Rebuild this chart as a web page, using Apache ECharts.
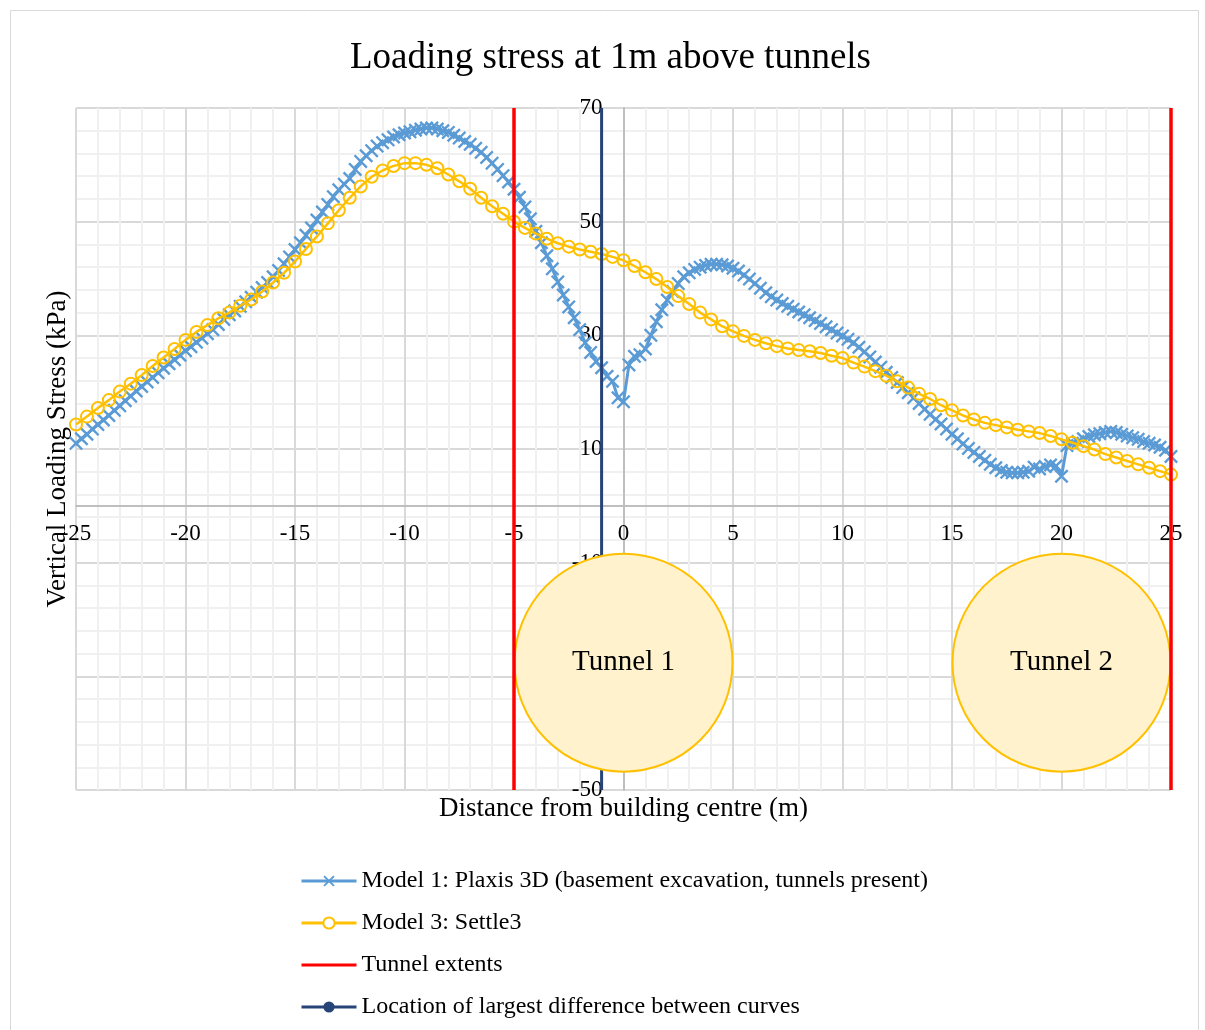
<!DOCTYPE html>
<html>
<head>
<meta charset="utf-8">
<title>Loading stress at 1m above tunnels</title>
<script src="https://cdn.jsdelivr.net/npm/echarts@6/dist/echarts.min.js"></script>
<style>
  html, body { margin: 0; padding: 0; background: #ffffff; }
  #chart { width: 1205px; height: 1030px; }
</style>
</head>
<body>
<div id="chart"></div>
<script>
// Model 1 (Plaxis 3D) sampled every 0.25 m from -25 m to 25 m, kPa
const plaxisStep = 0.25;
const plaxisStress = [
  11.0, 11.8, 12.6, 13.5, 14.3, 15.1, 15.9, 16.8, 17.6, 18.5,
  19.3, 20.2, 21.0, 21.8, 22.6, 23.4, 24.2, 25.0, 25.7, 26.5,
  27.3, 28.0, 28.8, 29.5, 30.3, 31.0, 31.9, 32.8, 33.6, 34.3,
  35.1, 35.9, 36.7, 37.6, 38.4, 39.3, 40.3, 41.4, 42.6, 43.8,
  45.1, 46.3, 47.6, 48.9, 50.3, 51.7, 53.0, 54.4, 55.6, 56.6,
  57.6, 59.2, 60.6, 61.6, 62.5, 63.3, 63.9, 64.4, 64.9, 65.3,
  65.6, 65.8, 66.1, 66.3, 66.5, 66.5, 66.3, 66.0, 65.7, 65.2,
  64.7, 64.1, 63.6, 62.9, 62.2, 61.3, 60.3, 59.2, 58.1, 57.0,
  55.7, 54.3, 52.6, 50.5, 48.3, 46.3, 44.0, 41.7, 39.4, 37.1,
  35.0, 33.1, 31.0, 28.7, 27.0, 25.4, 24.3, 22.8, 21.9, 19.0,
  18.3, 24.8, 26.3, 26.6, 27.6, 30.0, 32.4, 34.5, 36.2, 37.7,
  39.1, 40.3, 41.0, 41.6, 42.0, 42.3, 42.5, 42.5, 42.4, 42.2,
  41.8, 41.3, 40.6, 39.9, 39.1, 38.3, 37.5, 36.8, 36.2, 35.6,
  35.1, 34.6, 34.1, 33.6, 33.1, 32.6, 32.1, 31.5, 31.0, 30.4,
  29.9, 29.3, 28.7, 27.9, 27.1, 26.2, 25.3, 24.4, 23.5, 22.6,
  21.7, 20.8, 19.9, 19.0, 18.0, 17.0, 16.1, 15.2, 14.4, 13.5,
  12.6, 11.8, 10.9, 10.1, 9.4, 8.7, 8.0, 7.3, 6.7, 6.2,
  5.9, 5.8, 5.8, 5.9, 6.1, 6.8, 6.5, 6.9, 7.2, 7.0,
  5.2, 10.6, 11.0, 11.3, 11.8, 12.2, 12.5, 12.7, 12.9, 13.1,
  12.9, 12.6, 12.3, 12.0, 11.7, 11.3, 11.0, 10.7, 10.3, 9.8,
  8.7
];

// Model 3 (Settle3) sampled every 0.5 m from -25 m to 25 m, kPa
const settleStep = 0.5;
const settleStress = [
  14.3, 15.7, 17.2, 18.6, 20.1, 21.5, 23.0, 24.6, 26.1, 27.6,
  29.2, 30.6, 31.8, 33.0, 34.0, 35.2, 36.3, 37.7, 39.3, 41.0,
  43.0, 45.2, 47.4, 49.7, 52.0, 54.2, 56.2, 57.9, 59.0, 59.8,
  60.3, 60.3, 60.0, 59.4, 58.3, 57.1, 55.8, 54.2, 52.7, 51.4,
  50.0, 48.9, 47.9, 47.0, 46.2, 45.6, 45.1, 44.7, 44.3, 43.8,
  43.2, 42.2, 41.1, 39.9, 38.5, 36.9, 35.5, 34.0, 32.8, 31.6,
  30.7, 29.9, 29.2, 28.6, 28.1, 27.7, 27.4, 27.2, 26.9, 26.4,
  26.0, 25.2, 24.5, 23.7, 22.9, 21.9, 20.8, 19.7, 18.8, 17.7,
  16.8, 15.9, 15.2, 14.6, 14.2, 13.8, 13.4, 13.1, 12.8, 12.3,
  11.7, 11.1, 10.5, 9.9, 9.1, 8.5, 7.9, 7.3, 6.7, 6.1,
  5.5
];

const startDistance = -25;

// Tunnel edges (m) and the location of the largest difference between curves (m)
const tunnelExtents = [-5, 25];
const largestDifferenceAt = -1;

// Tunnel cross-sections: name, centre offset (m), centre level on the stress axis
const tunnelNames = ['Tunnel 1', 'Tunnel 2'];
const tunnelCentres = [0, 20];
const tunnelLevel = -27.6;

// Axis ranges and ticks
const xRange = [-25, 25];
const xTickStep = 5;
const yRange = [-50, 70];
const yTickStep = 20;

const seriesNames = [
  'Model 1: Plaxis 3D (basement excavation, tunnels present)',
  'Model 3: Settle3',
  'Tunnel extents',
  'Location of largest difference between curves'
];

const SERIF = '"Liberation Serif", "Times New Roman", serif';
const BLUE = '#5b9bd5';
const ORANGE = '#ffc000';
const RED = '#ff0000';
const NAVY = '#264478';

// Plot rectangle
const PLOT = { left: 76, top: 108, width: 1095, height: 682 };

// Axes cross at the origin: shift each axis from the grid edge to the other axis' zero
const zeroFromBottom = PLOT.height * (0 - yRange[0]) / (yRange[1] - yRange[0]);
const zeroFromLeft = PLOT.width * (0 - xRange[0]) / (xRange[1] - xRange[0]);

const toPairs = (values, step) => values.map((v, i) => [startDistance + i * step, v]);
// thin-armed "x" marker
const crossSymbol = 'path://M0,1.2L1.2,0L5,3.8L8.8,0L10,1.2L6.2,5L10,8.8L8.8,10L5,6.2L1.2,10L0,8.8L3.8,5Z';

const verticalLine = (x) => [[x, yRange[1]], [x, yRange[0]]];

const chart = echarts.init(document.getElementById('chart'), null, { renderer: 'canvas' });

const option = {
  backgroundColor: '#ffffff',
  animation: false,
  graphic: [{
    type: 'rect',
    silent: true,
    z: -10,
    shape: { x: 10.5, y: 10.5, width: 1188, height: 1040 },
    style: { fill: 'none', stroke: '#d9d9d9', lineWidth: 1 }
  }],
  title: {
    text: 'Loading stress at 1m above tunnels',
    left: 345,
    top: 35,
    textStyle: { fontFamily: SERIF, fontSize: 37, fontWeight: 'normal', color: '#000000' }
  },
  grid: {
    left: PLOT.left, top: PLOT.top, width: PLOT.width, height: PLOT.height,
    containLabel: false,
    outerBoundsMode: 'none'
  },
  xAxis: {
    type: 'value',
    min: xRange[0],
    max: xRange[1],
    interval: xTickStep,
    position: 'bottom',
    offset: -zeroFromBottom,
    axisLine: { onZero: false, lineStyle: { color: '#bfbfbf', width: 2 } },
    axisTick: { show: false },
    axisLabel: { margin: 17, fontFamily: SERIF, fontSize: 23, color: '#000000' },
    splitLine: { lineStyle: { color: '#d9d9d9', width: 2 } },
    minorTick: { show: false, splitNumber: 5 },
    minorSplitLine: { show: true, lineStyle: { color: '#f0f0f0', width: 2 } },
    name: 'Distance from building centre (m)',
    nameLocation: 'middle',
    nameGap: 290,
    nameTextStyle: { fontFamily: SERIF, fontSize: 27, color: '#000000' }
  },
  yAxis: {
    type: 'value',
    min: yRange[0],
    max: yRange[1],
    interval: yTickStep,
    position: 'left',
    offset: -zeroFromLeft,
    axisLine: { onZero: false, lineStyle: { color: '#bfbfbf', width: 2 } },
    axisTick: { show: false },
    axisLabel: { margin: 21, fontFamily: SERIF, fontSize: 23, color: '#000000' },
    splitLine: { lineStyle: { color: '#d9d9d9', width: 2 } },
    minorTick: { show: false, splitNumber: 5 },
    minorSplitLine: { show: true, lineStyle: { color: '#f0f0f0', width: 2 } },
    name: 'Vertical Loading Stress (kPa)',
    nameLocation: 'middle',
    nameGap: 552,
    nameTextStyle: { fontFamily: SERIF, fontSize: 27, color: '#000000' }
  },
  legend: {
    orient: 'vertical',
    left: 295,
    top: 864,
    itemWidth: 55,
    itemHeight: 14,
    itemGap: 18,
    textStyle: { fontFamily: SERIF, fontSize: 24, lineHeight: 24, color: '#000000' },
    data: [
      { name: seriesNames[0], itemStyle: { color: BLUE, borderWidth: 0 }, lineStyle: { color: BLUE, width: 3 } },
      { name: seriesNames[1], itemStyle: { color: '#ffffff', borderColor: ORANGE, borderWidth: 2 }, lineStyle: { color: ORANGE, width: 3 } },
      { name: seriesNames[2], icon: 'path://M0,0L55,0L55,3L0,3Z', itemStyle: { color: RED, borderWidth: 0 } },
      { name: seriesNames[3], itemStyle: { color: NAVY, borderWidth: 0 }, lineStyle: { color: NAVY, width: 3 } }
    ]
  },
  series: [
    {
      name: seriesNames[0],
      type: 'line',
      data: toPairs(plaxisStress, plaxisStep),
      symbol: crossSymbol,
      symbolSize: 14,
      showAllSymbol: true,
      lineStyle: { color: BLUE, width: 3 },
      itemStyle: { color: BLUE },
      z: 2
    },
    {
      name: seriesNames[1],
      type: 'line',
      data: toPairs(settleStress, settleStep),
      symbol: 'circle',
      symbolSize: 12,
      showAllSymbol: true,
      lineStyle: { color: ORANGE, width: 2.5 },
      itemStyle: { color: 'rgba(255,255,255,0)', borderColor: ORANGE, borderWidth: 2 },
      z: 3
    },
    {
      name: seriesNames[3],
      type: 'line',
      data: verticalLine(largestDifferenceAt),
      symbol: 'circle',
      showSymbol: false,
      lineStyle: { color: NAVY, width: 3 },
      itemStyle: { color: NAVY },
      z: 4
    },
    {
      name: 'Tunnels',
      type: 'scatter',
      data: tunnelNames.map((n, i) => ({ name: n, value: [tunnelCentres[i], tunnelLevel] })),
      symbol: 'circle',
      symbolSize: 218,
      itemStyle: { color: '#fff2cc', borderColor: ORANGE, borderWidth: 2, opacity: 1 },
      label: {
        show: true,
        position: 'inside',
        formatter: (p) => p.name,
        fontFamily: SERIF,
        fontSize: 29,
        color: '#000000'
      },
      z: 5
    },
    ...tunnelExtents.map((x) => ({
      name: seriesNames[2],
      type: 'line',
      data: verticalLine(x),
      symbol: 'none',
      lineStyle: { color: RED, width: 3.5 },
      itemStyle: { color: RED },
      z: 6
    }))
  ]
};

chart.setOption(option);
</script>
</body>
</html>
